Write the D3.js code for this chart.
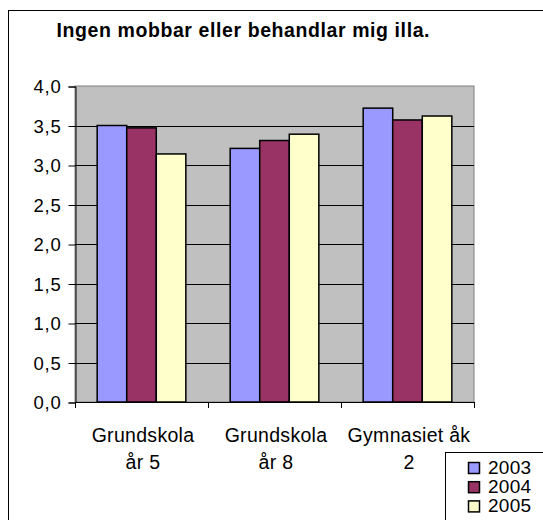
<!DOCTYPE html>
<html>
<head>
<meta charset="utf-8">
<script src="https://cdn.jsdelivr.net/npm/d3@7"></script>
<style>
  body { margin: 0; background: #fff; }
  svg { display: block; font-family: "Liberation Sans", Arial, sans-serif; }
</style>
</head>
<body>
<svg id="chart" width="543" height="520"></svg>
<script>
//Chart data
var title = "Ingen mobbar eller behandlar mig illa.";
var categories = ["Grundskola år 5", "Grundskola år 8", "Gymnasiet åk 2"];
var categoryLines = [["Grundskola", "år 5"], ["Grundskola", "år 8"], ["Gymnasiet åk", "2"]];
var seriesNames = ["2003", "2004", "2005"];
var values2003 = [3.50, 3.21, 3.72];
var values2004 = [3.47, 3.31, 3.57];
var values2005 = [3.14, 3.39, 3.62];
var yTicks = [0, 0.5, 1, 1.5, 2, 2.5, 3, 3.5, 4];
var colors = ["#9999FF", "#993366", "#FFFFCC"];

var seriesValues = [values2003, values2004, values2005];

//Plot area
var plot = {left: 75, top: 86, right: 474, bottom: 402};

var svg = d3.select("#chart");

//outer frame (runs off the right and bottom edge)
svg.append("rect")
  .attr("x", 8.5).attr("y", 10.5)
  .attr("width", 700).attr("height", 700)
  .attr("fill", "#fff").attr("stroke", "#000").attr("stroke-width", 1);

//title
svg.append("text")
  .attr("x", 56.5).attr("y", 37)
  .attr("font-size", 19.5).attr("font-weight", "bold")
  .attr("textLength", 373).attr("lengthAdjust", "spacing")
  .text(title);

//scales
var y = d3.scaleLinear().domain([0, 4]).range([plot.bottom, plot.top]);
var x0 = d3.scaleBand().domain(categories).range([plot.left, plot.right]).padding(0);
var x1 = d3.scaleBand().domain(seriesNames).range([0, x0.bandwidth()]).paddingInner(0).paddingOuter(0.75);

//plot background
svg.append("rect")
  .attr("x", plot.left).attr("y", plot.top)
  .attr("width", plot.right - plot.left).attr("height", plot.bottom - plot.top)
  .attr("fill", "#C0C0C0").attr("stroke", "#808080").attr("stroke-width", 1);

//gridlines
svg.append("g").selectAll("line")
  .data(yTicks.filter(function(d){ return d > 0 && d < 4; }))
  .enter().append("line")
  .attr("x1", plot.left).attr("x2", plot.right)
  .attr("y1", function(d){ return Math.round(y(d)) + 0.5; })
  .attr("y2", function(d){ return Math.round(y(d)) + 0.5; })
  .attr("stroke", "#000").attr("stroke-width", 1);

//bars
var rows = categories.map(function(c, i){
  return {cat: c, vals: seriesNames.map(function(s, j){ return {s: s, v: seriesValues[j][i], j: j}; })};
});
svg.append("g").selectAll("g")
  .data(rows).enter().append("g")
  .attr("transform", function(d){ return "translate(" + x0(d.cat) + ",0)"; })
  .selectAll("rect")
  .data(function(d){ return d.vals; })
  .enter().append("rect")
  .attr("x", function(d){ return x1(d.s); })
  .attr("y", function(d){ return y(d.v); })
  .attr("width", x1.bandwidth())
  .attr("height", function(d){ return y(0) - y(d.v); })
  .attr("fill", function(d){ return colors[d.j]; })
  .attr("stroke", "#000").attr("stroke-width", 1.5);

//y axis
var yAxis = d3.axisLeft(y).tickValues(yTicks).tickSize(7).tickPadding(7)
  .tickFormat(function(d){ return d3.format(".1f")(d).replace(".", ","); });
var yg = svg.append("g").attr("transform", "translate(" + (plot.left + 0.5) + ",0.5)").call(yAxis);
yg.select(".domain").attr("stroke", "#000");
yg.selectAll(".tick line").attr("stroke", "#000");
yg.selectAll(".tick text").attr("font-size", 18.5).attr("font-family", "'Liberation Sans', Arial, sans-serif")
  .attr("letter-spacing", 0.8).attr("fill", "#000").attr("dy", "0.34em");

//x axis line + category ticks
var xg = svg.append("g");
xg.append("line")
  .attr("x1", plot.left).attr("x2", plot.right)
  .attr("y1", plot.bottom + 0.5).attr("y2", plot.bottom + 0.5)
  .attr("stroke", "#000");
var tickXs = categories.map(function(c){ return x0(c); }).concat([plot.right]);
xg.selectAll(".ctick").data(tickXs).enter().append("line")
  .attr("x1", function(d){ return Math.round(d) + 0.5; })
  .attr("x2", function(d){ return Math.round(d) + 0.5; })
  .attr("y1", plot.bottom).attr("y2", plot.bottom + 6)
  .attr("stroke", "#000");

//category labels (two lines)
var labels = xg.selectAll(".clabel").data(categories).enter().append("text")
  .attr("text-anchor", "middle")
  .attr("font-size", 19.5)
  .attr("letter-spacing", 0.3)
  .attr("x", function(d){ return x0(d) + x0.bandwidth() / 2 + 1.5; })
  .attr("y", 441.5);
labels.selectAll("tspan")
  .data(function(d, i){ return categoryLines[i]; })
  .enter().append("tspan")
  .attr("x", function(){ return d3.select(this.parentNode).attr("x"); })
  .attr("dy", function(d, i){ return i === 0 ? 0 : 27; })
  .text(function(d){ return d; });

//legend
svg.append("rect")
  .attr("x", 445.5).attr("y", 452.5)
  .attr("width", 200).attr("height", 200)
  .attr("fill", "#fff").attr("stroke", "#000");
var lg = svg.append("g").selectAll("g").data(seriesNames).enter().append("g")
  .attr("transform", function(d, i){ return "translate(468," + (473.5 + i * 19.2) + ")"; });
lg.append("rect")
  .attr("x", 0.5).attr("y", -11)
  .attr("width", 11).attr("height", 11)
  .attr("fill", function(d, i){ return colors[i]; })
  .attr("stroke", "#000").attr("stroke-width", 1.5);
lg.append("text")
  .attr("x", 20).attr("y", 0)
  .attr("font-size", 19)
  .attr("letter-spacing", 0.3)
  .text(function(d){ return d; });
</script>
</body>
</html>
